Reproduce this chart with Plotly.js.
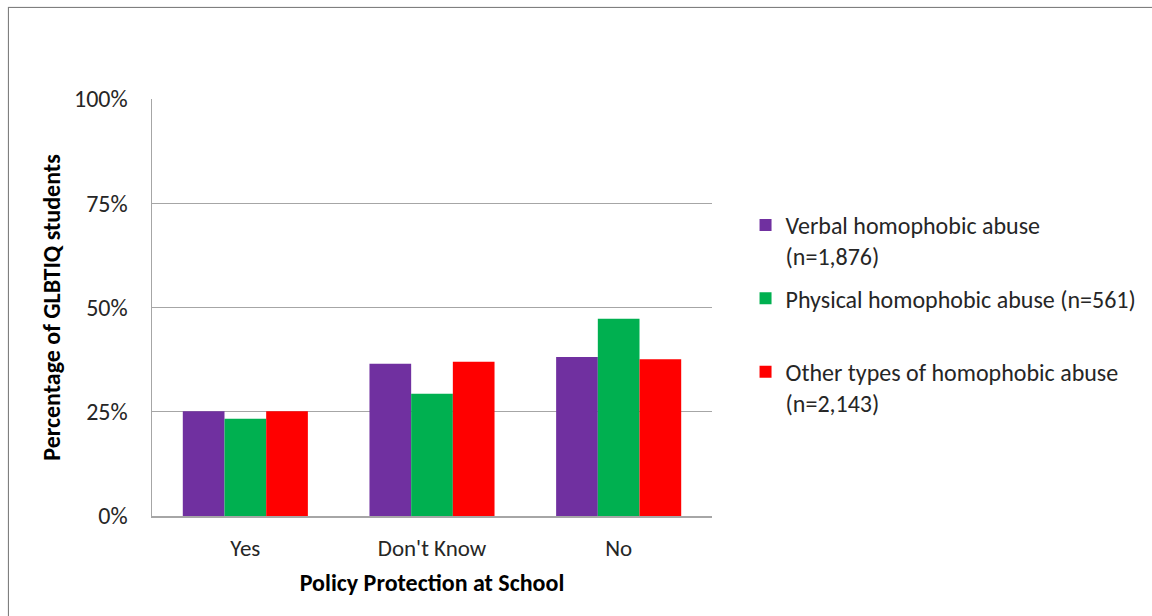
<!DOCTYPE html>
<html>
<head>
<meta charset="utf-8">
<script src="https://cdn.plot.ly/plotly-3.0.1.min.js"></script>
<style>
html,body{margin:0;padding:0;background:#fff;}
#chart{width:1152px;height:616px;}
#frame{position:absolute;left:8px;top:7px;width:1160px;height:640px;border:1px solid #7f7f7f;box-shadow:0 0 1px #aaa;pointer-events:none;}
</style>
</head>
<body>
<div id="chart"></div>
<div id="frame"></div>
<script>
const categories = ["Yes", "Don't Know", "No"];
const seriesNames = [
  "Verbal homophobic abuse<br>(n=1,876)",
  "Physical homophobic abuse (n=561)<br> ",
  "Other types of homophobic abuse<br>(n=2,143)"
];
const verbal = [25.1, 36.5, 38.1];
const physical = [23.3, 29.3, 47.3];
const other = [25.1, 37.0, 37.6];
const colors = ["#7030A0", "#00B050", "#FF0000"];
const yTickVals = [0, 25, 50, 75, 100];
const yTickText = ["0%", "25%", "50%", "75%", "100%"];

const font = "Calibri, Carlito, Lato, sans-serif";
const values = [verbal, physical, other];
const traces = values.map((v, i) => ({
  type: "bar",
  x: categories,
  y: v,
  name: seriesNames[i],
  legendgroup: "g" + i,
  marker: {color: colors[i], line: {width: 0}},
  hoverinfo: "y"
}));

const layout = {
  width: 1152, height: 616,
  margin: {l: 152, r: 439, t: 99, b: 100},
  paper_bgcolor: "#fff", plot_bgcolor: "#fff",
  barmode: "group", bargap: 0.33, bargroupgap: 0,
  font: {family: font, color: "#262626", size: 22},
  showlegend: true,
  legend: {
    x: 1.058, xanchor: "left", y: 0.751, yanchor: "top",
    font: {family: font, size: 24, color: "#262626"},
    valign: "top", itemwidth: 30, tracegroupgap: 8,
    bgcolor: "rgba(0,0,0,0)"
  },
  xaxis: {
    type: "category",
    showline: true, linecolor: "#A6A6A6", linewidth: 1.5,
    ticks: "", ticklabelstandoff: 11,
    tickfont: {family: font, size: 23, color: "#262626"},
    title: {text: "<b>Policy Protection at School</b>", font: {family: font, size: 24, color: "#000"}, standoff: 13},
    showgrid: false, fixedrange: true
  },
  yaxis: {
    range: [0, 100], tickvals: yTickVals, ticktext: yTickText,
    showgrid: true, gridcolor: "#A6A6A6", gridwidth: 1,
    showline: true, linecolor: "#A6A6A6", linewidth: 1.5,
    ticks: "", ticklen: 0, ticklabelstandoff: 18,
    tickfont: {family: font, size: 24, color: "#262626"},
    title: {text: "<b>Percentage of GLBTIQ students</b>", font: {family: font, size: 24, color: "#000"}, standoff: 6},
    zeroline: false, fixedrange: true
  }
};

Plotly.newPlot("chart", traces, layout, {displayModeBar: false, staticPlot: true});
</script>
</body>
</html>
